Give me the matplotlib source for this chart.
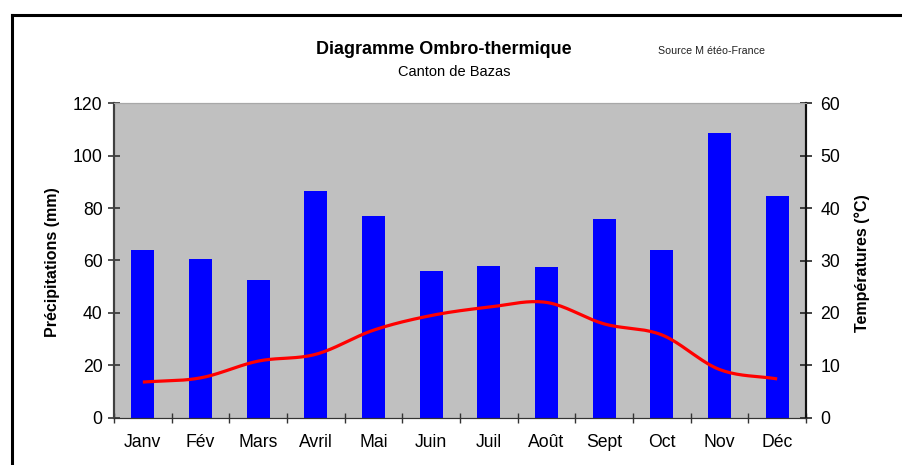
import matplotlib
matplotlib.use("Agg")
import matplotlib.pyplot as plt
from matplotlib.lines import Line2D
import numpy as np

months = ["Janv", "Fév", "Mars", "Avril", "Mai", "Juin",
          "Juil", "Août", "Sept", "Oct", "Nov", "Déc"]
precip = [64.0, 60.6, 52.6, 86.5, 77.0, 56.0, 57.9, 57.5, 75.8, 64.0, 108.7, 84.6]
temps = [6.8, 7.6, 10.8, 12.1, 16.7, 19.5, 21.1, 22.0, 17.9, 15.8, 9.2, 7.4]


def smooth(xs, ys, n=20):
    # catmull-rom, close to excel's "smoothed line"
    xs = np.asarray(xs, float)
    ys = np.asarray(ys, float)
    px = np.concatenate([[2 * xs[0] - xs[1]], xs, [2 * xs[-1] - xs[-2]]])
    py = np.concatenate([[2 * ys[0] - ys[1]], ys, [2 * ys[-1] - ys[-2]]])
    out_x, out_y = [], []
    t = np.linspace(0, 1, n, endpoint=False)
    for i in range(1, len(px) - 2):
        for p, out in ((px, out_x), (py, out_y)):
            p0, p1, p2, p3 = p[i - 1], p[i], p[i + 1], p[i + 2]
            out.extend(0.5 * (2 * p1 + (-p0 + p2) * t
                              + (2 * p0 - 5 * p1 + 4 * p2 - p3) * t ** 2
                              + (-p0 + 3 * p1 - 3 * p2 + p3) * t ** 3))
    out_x.append(xs[-1])
    out_y.append(ys[-1])
    return np.array(out_x), np.array(out_y)


plt.rcParams["font.family"] = ["Liberation Sans", "DejaVu Sans"]

W, H = 902, 465
fig = plt.figure(figsize=(W / 100, H / 100), dpi=100)
ax = fig.add_axes([114 / W, 1 - 417.7 / H, (806 - 114) / W, (417.7 - 103.3) / H])
ax.set_facecolor("#C0C0C0")

x = np.arange(len(months))
ax.bar(x, precip, width=0.4, color="#0000FF", zorder=2)
ax.set_xlim(-0.5, 11.5)
ax.set_ylim(0, 120)
ax.set_yticks(range(0, 121, 20))
ax.set_xticks(np.arange(-0.5, 12, 1))
ax.set_xticklabels([])
ax.set_xticks(x, minor=True)
ax.set_xticklabels(months, minor=True)
ax.tick_params(axis="x", which="major", direction="inout", length=7.5, width=1, color="#333333")
ax.tick_params(axis="x", which="minor", length=0, pad=11.5, labelsize=12.7)
ax.tick_params(axis="y", direction="inout", length=8.5, width=1.2, color="#333333",
               pad=4, labelsize=12.7)

ax2 = ax.twinx()
sx, sy = smooth(x, temps)
ax2.plot(sx, sy, color="#FF0000", linewidth=2.3, solid_capstyle="butt")
ax2.set_ylim(0, 60)
ax2.set_yticks(range(0, 61, 10))
ax2.tick_params(axis="y", direction="inout", length=8.5, width=1.2, color="#222222",
                pad=6, labelsize=12.7)

for a in (ax, ax2):
    a.spines["top"].set_color("#A8A8A8")
    a.spines["left"].set_color("#404040")
    a.spines["bottom"].set_color("#333333")
    a.spines["right"].set_color("#111111")
    a.spines["left"].set_linewidth(1.5)
    a.spines["right"].set_linewidth(1.5)

fig.text(53 / W, 1 - 262 / H, "Précipitations (mm)", rotation=90, ha="center", va="center",
         fontsize=11.5, fontweight="bold")
fig.text(862 / W, 1 - 263 / H, "Températures (°C)", rotation=90, ha="center", va="center",
         fontsize=11.5, fontweight="bold")

fig.text(443.5 / W, 1 - 49 / H, "Diagramme Ombro-thermique", ha="center", va="center",
         fontsize=13, fontweight="bold")
fig.text(454.5 / W, 1 - 72.5 / H, "Canton de Bazas", ha="center", va="center", fontsize=10.5)
fig.text(711 / W, 1 - 51 / H, "Source M étéo-France", ha="center", va="center",
         fontsize=7.7, color="#222222")

# outer frame (only top and left visible in the crop)
fig.add_artist(Line2D([12 / W, 1], [1 - 15 / H, 1 - 15 / H], color="black", linewidth=2.2,
                      transform=fig.transFigure))
fig.add_artist(Line2D([12 / W, 12 / W], [0, 1 - 15 / H], color="black", linewidth=2.2,
                      transform=fig.transFigure))

fig.savefig("out.png", dpi=100)
